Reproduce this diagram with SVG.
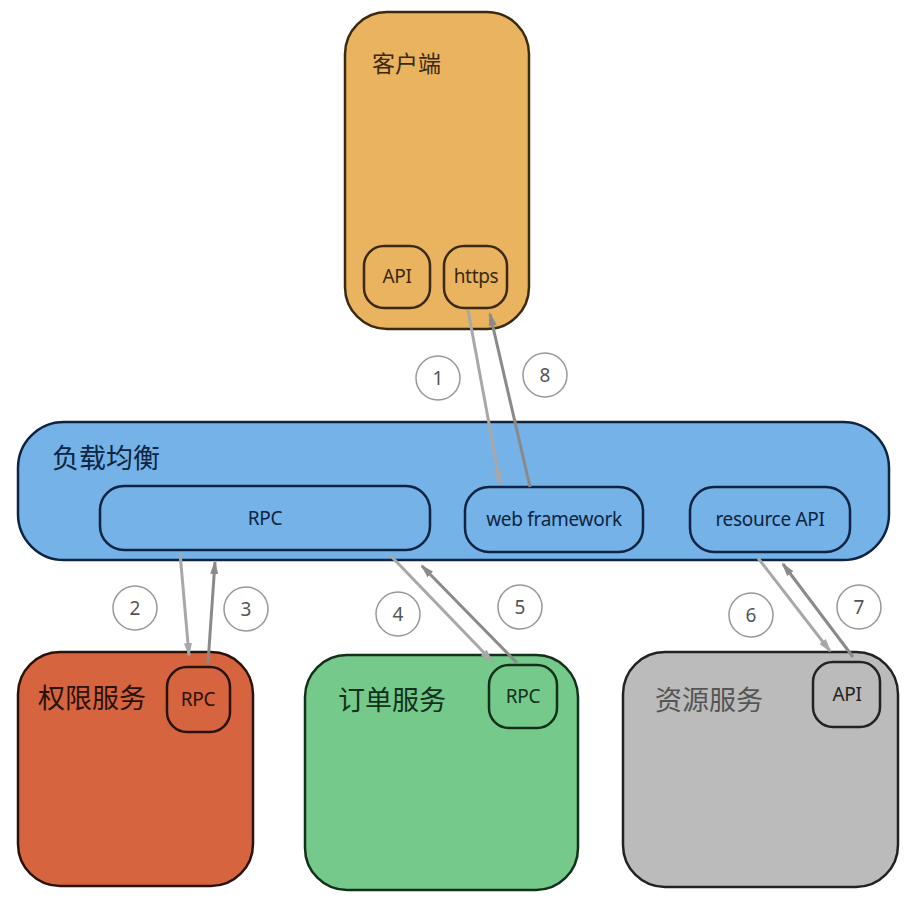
<svg xmlns="http://www.w3.org/2000/svg" width="918" height="902" viewBox="0 0 918 902">
<defs>
<style>
.cn{font-family:"Noto Sans CJK SC","Noto Sans",sans-serif;font-size:27px;}
.cn2{font-family:"Noto Sans CJK SC","Noto Sans",sans-serif;font-size:23px;}
.en{font-family:"Noto Sans","Liberation Sans",sans-serif;font-size:19px;text-anchor:middle;letter-spacing:-0.3px;}
.num{font-family:"Noto Sans","Liberation Sans",sans-serif;font-size:19px;fill:#555;text-anchor:middle;}
.circ{fill:#fff;stroke:#999;stroke-width:1.5;}
.dn{stroke:#a8a8a8;stroke-width:3;fill:none;marker-end:url(#ah1);}
.up{stroke:#8a8a8a;stroke-width:3;fill:none;marker-end:url(#ah2);}
</style>
<marker id="ah1" markerWidth="14" markerHeight="10" refX="12" refY="5" orient="auto" markerUnits="userSpaceOnUse" viewBox="0 0 14 10"><path d="M0,1 L14,5 L0,9 Z" fill="#a8a8a8"/></marker>
<marker id="ah2" markerWidth="14" markerHeight="10" refX="12" refY="5" orient="auto" markerUnits="userSpaceOnUse" viewBox="0 0 14 10"><path d="M0,1 L14,5 L0,9 Z" fill="#8a8a8a"/></marker>
</defs>
<rect width="918" height="902" fill="#fff"/>

<g id="client">
<rect x="345" y="12" width="184" height="317" rx="42" fill="#E9B360" stroke="#3a2a12" stroke-width="2.5"/>
<text class="cn2" x="372" y="72" fill="#3a2a12">客户端</text>
<rect x="364" y="246" width="66" height="62" rx="20" fill="#E9B360" stroke="#3a2a12" stroke-width="2.5"/>
<text class="en" x="397" y="283" fill="#3a2a12">API</text>
<rect x="444" y="246" width="63" height="62" rx="20" fill="#E9B360" stroke="#3a2a12" stroke-width="2.5"/>
<text class="en" x="476" y="283" fill="#3a2a12">https</text>
</g>

<g id="lb">
<rect x="18" y="422" width="871" height="138" rx="46" fill="#74B2E8" stroke="#0e2440" stroke-width="2.5"/>
<text class="cn" x="52" y="468" fill="#0e2440">负载均衡</text>
<rect x="100" y="486" width="330" height="64" rx="24" fill="#74B2E8" stroke="#0e2440" stroke-width="2.5"/>
<text class="en" x="265" y="525" fill="#0e2440">RPC</text>
<rect x="465" y="487" width="178" height="65" rx="24" fill="#74B2E8" stroke="#0e2440" stroke-width="2.5"/>
<text class="en" x="554" y="526" fill="#0e2440">web framework</text>
<rect x="690" y="487" width="160" height="65" rx="24" fill="#74B2E8" stroke="#0e2440" stroke-width="2.5"/>
<text class="en" x="770" y="526" fill="#0e2440">resource API</text>
</g>

<g id="auth">
<rect x="18" y="652" width="235" height="234" rx="42" fill="#D6643F" stroke="#2a120a" stroke-width="2.5"/>
<text class="cn" x="38" y="708" fill="#2a120a">权限服务</text>
<rect x="167" y="667" width="63" height="65" rx="20" fill="#D6643F" stroke="#2a120a" stroke-width="2.5"/>
<text class="en" x="198" y="706" fill="#2a120a">RPC</text>
</g>

<g id="order">
<rect x="305" y="655" width="273" height="235" rx="42" fill="#74C98B" stroke="#13301a" stroke-width="2.5"/>
<text class="cn" x="338" y="710" fill="#13301a">订单服务</text>
<rect x="489" y="665" width="68" height="63" rx="20" fill="#74C98B" stroke="#13301a" stroke-width="2.5"/>
<text class="en" x="523" y="703" fill="#13301a">RPC</text>
</g>

<g id="resource">
<rect x="623" y="652" width="275" height="235" rx="42" fill="#BBBBBB" stroke="#222" stroke-width="2.5"/>
<text class="cn" x="655" y="710" fill="#555">资源服务</text>
<rect x="813" y="662" width="67" height="65" rx="20" fill="#BBBBBB" stroke="#222" stroke-width="2.5"/>
<text class="en" x="847" y="701" fill="#222">API</text>
</g>

<g id="connectors">
<line class="dn" x1="468" y1="310" x2="500" y2="483"/>
<line class="up" x1="530" y1="487" x2="490" y2="314"/>
<line class="dn" x1="180" y1="553" x2="189" y2="655"/>
<line class="up" x1="208" y1="663" x2="215" y2="562"/>
<line class="dn" x1="390" y1="555" x2="492" y2="661"/>
<line class="up" x1="517" y1="663" x2="422" y2="566"/>
<line class="dn" x1="758" y1="558" x2="830" y2="651"/>
<line class="up" x1="853" y1="657" x2="783" y2="564"/>
</g>

<g id="labels">
<circle class="circ" cx="438" cy="378" r="22"/><text class="num" x="438" y="385">1</text>
<circle class="circ" cx="545" cy="375" r="22"/><text class="num" x="545" y="382">8</text>
<circle class="circ" cx="135" cy="608" r="22"/><text class="num" x="135" y="615">2</text>
<circle class="circ" cx="246" cy="609" r="22"/><text class="num" x="246" y="616">3</text>
<circle class="circ" cx="398" cy="614" r="22"/><text class="num" x="398" y="621">4</text>
<circle class="circ" cx="520" cy="607" r="22"/><text class="num" x="520" y="614">5</text>
<circle class="circ" cx="751" cy="615" r="22"/><text class="num" x="751" y="622">6</text>
<circle class="circ" cx="859" cy="607" r="22"/><text class="num" x="859" y="614">7</text>
</g>
</svg>
